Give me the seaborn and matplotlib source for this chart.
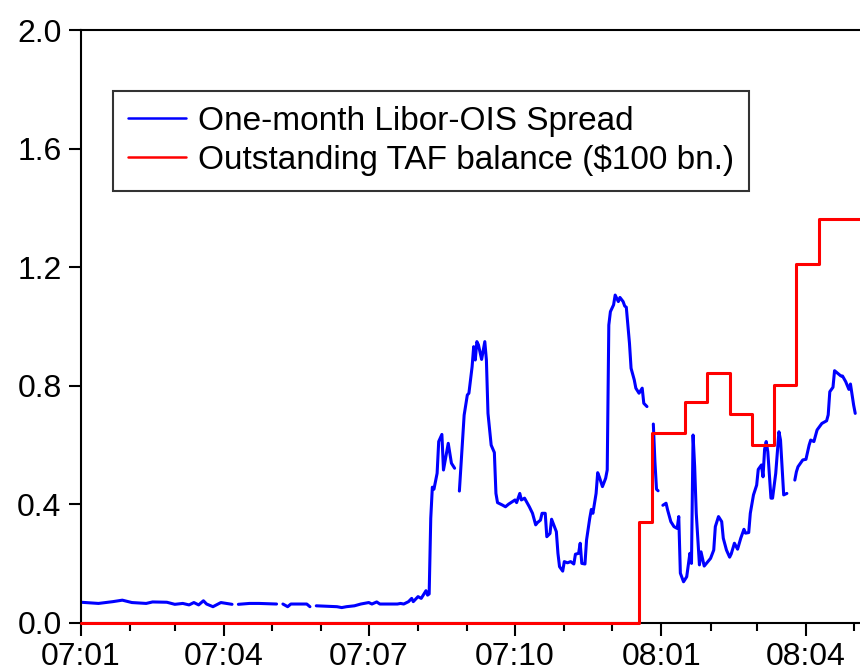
import numpy as np
import pandas as pd
import seaborn as sns
import matplotlib
matplotlib.use("Agg")
import matplotlib.pyplot as plt
import matplotlib.dates as mdates
from matplotlib.lines import Line2D

# one-month Libor-OIS spread (NaN = missing obs / holiday gap)
libor_dates = [
    "2007-01-01", "2007-01-12", "2007-01-21", "2007-01-27", "2007-02-02", "2007-02-11",
    "2007-02-15", "2007-02-24", "2007-03-01", "2007-03-06", "2007-03-10", "2007-03-13",
    "2007-03-16", "2007-03-19", "2007-03-21", "2007-03-25", "2007-03-30", "2007-04-06",
    "2007-04-07", "2007-04-10", "2007-04-17", "2007-04-23", "2007-05-04", "2007-05-06",
    "2007-05-08", "2007-05-11", "2007-05-13", "2007-05-23", "2007-05-25", "2007-05-27",
    "2007-05-29", "2007-06-11", "2007-06-14", "2007-06-17", "2007-06-22", "2007-06-26",
    "2007-07-01", "2007-07-03", "2007-07-06", "2007-07-08", "2007-07-19", "2007-07-21",
    "2007-07-23", "2007-07-26", "2007-07-28", "2007-07-29", "2007-08-01", "2007-08-03",
    "2007-08-06", "2007-08-07", "2007-08-08", "2007-08-09", "2007-08-10", "2007-08-11",
    "2007-08-13", "2007-08-14", "2007-08-16", "2007-08-17", "2007-08-20", "2007-08-22",
    "2007-08-24", "2007-08-25", "2007-08-27", "2007-08-30", "2007-09-01", "2007-09-02",
    "2007-09-04", "2007-09-05", "2007-09-06", "2007-09-07", "2007-09-08", "2007-09-10",
    "2007-09-12", "2007-09-13", "2007-09-14", "2007-09-16", "2007-09-18", "2007-09-19",
    "2007-09-20", "2007-09-23", "2007-09-25", "2007-09-27", "2007-10-01", "2007-10-02",
    "2007-10-04", "2007-10-05", "2007-10-07", "2007-10-10", "2007-10-12", "2007-10-14",
    "2007-10-15", "2007-10-17", "2007-10-18", "2007-10-20", "2007-10-21", "2007-10-23",
    "2007-10-24", "2007-10-27", "2007-10-28", "2007-10-29", "2007-10-31", "2007-11-01",
    "2007-11-03", "2007-11-05", "2007-11-07", "2007-11-08", "2007-11-10", "2007-11-11",
    "2007-11-12", "2007-11-14", "2007-11-15", "2007-11-17", "2007-11-18", "2007-11-19",
    "2007-11-21", "2007-11-22", "2007-11-23", "2007-11-25", "2007-11-27", "2007-11-28",
    "2007-11-29", "2007-11-30", "2007-12-02", "2007-12-03", "2007-12-05", "2007-12-06",
    "2007-12-08", "2007-12-09", "2007-12-10", "2007-12-12", "2007-12-13", "2007-12-15",
    "2007-12-16", "2007-12-18", "2007-12-20", "2007-12-21", "2007-12-23", "2007-12-25",
    "2007-12-27", "2007-12-28", "2007-12-29", "2007-12-30", "2007-12-31", "2008-01-02",
    "2008-01-04", "2008-01-05", "2008-01-07", "2008-01-09", "2008-01-11", "2008-01-12",
    "2008-01-13", "2008-01-15", "2008-01-17", "2008-01-19", "2008-01-20", "2008-01-21",
    "2008-01-22", "2008-01-23", "2008-01-25", "2008-01-26", "2008-01-28", "2008-02-01",
    "2008-02-03", "2008-02-04", "2008-02-06", "2008-02-08", "2008-02-09", "2008-02-11",
    "2008-02-13", "2008-02-14", "2008-02-16", "2008-02-18", "2008-02-20", "2008-02-22",
    "2008-02-23", "2008-02-25", "2008-02-26", "2008-02-28", "2008-03-01", "2008-03-02",
    "2008-03-04", "2008-03-05", "2008-03-06", "2008-03-07", "2008-03-08", "2008-03-10",
    "2008-03-11", "2008-03-13", "2008-03-15", "2008-03-16", "2008-03-18", "2008-03-20",
    "2008-03-22", "2008-03-25", "2008-03-26", "2008-03-27", "2008-03-30", "2008-04-01",
    "2008-04-03", "2008-04-04", "2008-04-06", "2008-04-08", "2008-04-11", "2008-04-14",
    "2008-04-15", "2008-04-16", "2008-04-18", "2008-04-19", "2008-04-21", "2008-04-23",
    "2008-04-24", "2008-04-26", "2008-04-28", "2008-04-29", "2008-05-01", "2008-05-02",
]
libor_spread = [
    0.070, 0.066, 0.072, 0.077, 0.069, 0.066,
    0.071, 0.070, 0.063, 0.066, 0.061, 0.069,
    0.061, 0.075, 0.064, 0.055, 0.069, 0.063,
    np.nan, 0.063, 0.066, 0.066, 0.064, np.nan,
    0.064, 0.055, 0.064, 0.064, 0.055, np.nan,
    0.058, 0.055, 0.052, 0.055, 0.058, 0.064,
    0.069, 0.064, 0.071, 0.064, 0.064, 0.066,
    0.064, 0.072, 0.083, 0.072, 0.089, 0.083,
    0.109, 0.094, 0.098, 0.353, 0.458, 0.451,
    0.505, 0.612, 0.636, 0.516, 0.606, 0.539,
    0.522, np.nan, 0.445, 0.701, 0.769, 0.775,
    0.864, 0.932, 0.887, 0.949, 0.938, 0.889,
    0.949, 0.887, 0.707, 0.600, 0.575, 0.437,
    0.406, 0.398, 0.392, 0.401, 0.415, 0.406,
    0.437, 0.415, 0.421, 0.392, 0.370, 0.331,
    0.338, 0.347, 0.370, 0.370, 0.291, 0.302,
    0.350, 0.308, 0.235, 0.190, 0.175, 0.207,
    0.203, 0.207, 0.199, 0.232, 0.235, 0.269,
    0.201, 0.199, 0.280, 0.353, 0.383, 0.370,
    0.437, 0.507, 0.493, 0.460, 0.488, 0.516,
    1.005, 1.050, 1.073, 1.106, 1.084, 1.098,
    1.084, 1.069, 1.065, 0.943, 0.859, 0.820,
    0.792, 0.775, 0.792, 0.741, 0.730, np.nan,
    0.671, 0.544, 0.451, 0.446, np.nan, 0.397,
    0.404, 0.381, 0.342, 0.325, 0.319, 0.359,
    0.168, 0.139, 0.156, 0.235, 0.201, 0.634,
    0.527, 0.370, 0.196, 0.240, 0.192, 0.218,
    0.246, 0.325, 0.359, 0.342, 0.286, 0.246,
    0.222, 0.233, 0.269, 0.249, 0.286, 0.316,
    0.303, 0.305, 0.370, 0.432, 0.465, 0.518,
    0.533, 0.493, 0.586, 0.612, 0.578, 0.421,
    0.421, 0.505, 0.645, 0.617, 0.432, 0.437,
    np.nan, 0.482, 0.510, 0.527, 0.550, 0.552,
    0.600, 0.617, 0.612, 0.651, 0.673, 0.682,
    0.702, 0.780, 0.795, 0.851, 0.842, 0.833,
    0.833, 0.814, 0.788, 0.806, 0.735, 0.707,
]

# outstanding TAF balance ($100 bn.), level changes
taf_dates = ["2007-01-01", "2007-12-18", "2007-12-26", "2008-01-16", "2008-01-30",
             "2008-02-13", "2008-02-27", "2008-03-12", "2008-03-26", "2008-04-09",
             "2008-05-06"]
taf_balance = [0.0, 0.342, 0.641, 0.744, 0.842, 0.705, 0.600, 0.803, 1.211, 1.363, 1.363]

y_ticks = [0.0, 0.4, 0.8, 1.2, 1.6, 2.0]
labels = ["One-month Libor-OIS Spread", "Outstanding TAF balance ($100 bn.)"]

sns.set_style("ticks")
plt.rcParams["font.family"] = ["Liberation Sans", "DejaVu Sans"]
plt.rcParams["text.color"] = "black"
plt.rcParams["xtick.color"] = "black"
plt.rcParams["ytick.color"] = "black"

libor = pd.DataFrame({"date": pd.to_datetime(libor_dates), "spread": libor_spread})
libor["seg"] = libor["spread"].isna().cumsum()
libor = libor.dropna()
taf = pd.DataFrame({"date": pd.to_datetime(taf_dates), "bal": taf_balance})

fig = plt.figure(figsize=(8.6, 6.71), dpi=100)
ax = fig.add_axes([81 / 860, 48 / 671, 779 / 860, 593 / 671])

sns.lineplot(data=libor, x="date", y="spread", units="seg", estimator=None,
             color="#0000ff", linewidth=2.2, ax=ax)
sns.lineplot(data=taf, x="date", y="bal", estimator=None, color="#ff0000",
             linewidth=2.2, drawstyle="steps-post", ax=ax, clip_on=False, zorder=5)

ax.set_xlim(pd.Timestamp("2007-01-01"), pd.Timestamp("2008-05-05"))
ax.set_ylim(0, 2.0)
ax.set_yticks(y_ticks)
ax.yaxis.set_major_formatter(matplotlib.ticker.FormatStrFormatter("%.1f"))
ax.xaxis.set_major_locator(mdates.MonthLocator(bymonth=[1, 4, 7, 10]))
ax.xaxis.set_minor_locator(mdates.MonthLocator())
ax.xaxis.set_major_formatter(mdates.DateFormatter("%y:%m"))
ax.set_xlabel("")
ax.set_ylabel("")

for s in ["left", "top", "bottom"]:
    ax.spines[s].set_visible(True)
    ax.spines[s].set_linewidth(1.5)
    ax.spines[s].set_color("black")
ax.spines["right"].set_visible(False)
ax.tick_params(axis="both", which="major", labelsize=23, length=9, width=1.5,
               direction="out", pad=5, colors="black")
ax.tick_params(axis="x", which="minor", length=6, width=1.5, direction="out")
ax.tick_params(axis="y", which="minor", length=0)
ax.tick_params(top=False, right=False)

handles = [Line2D([], [], color="#0000ff", lw=1.8), Line2D([], [], color="#ff0000", lw=1.8)]
leg = ax.legend(handles, labels, loc="upper left", bbox_to_anchor=(0.041, 0.897),
                borderaxespad=0, fontsize=24, frameon=True, fancybox=False,
                edgecolor="black", handlelength=1.75, handletextpad=0.35,
                labelspacing=0.22, borderpad=0.45)
leg.get_frame().set_linewidth(1.5)
for t in leg.get_texts():
    t.set_color("black")

fig.savefig("out.png", dpi=100)
